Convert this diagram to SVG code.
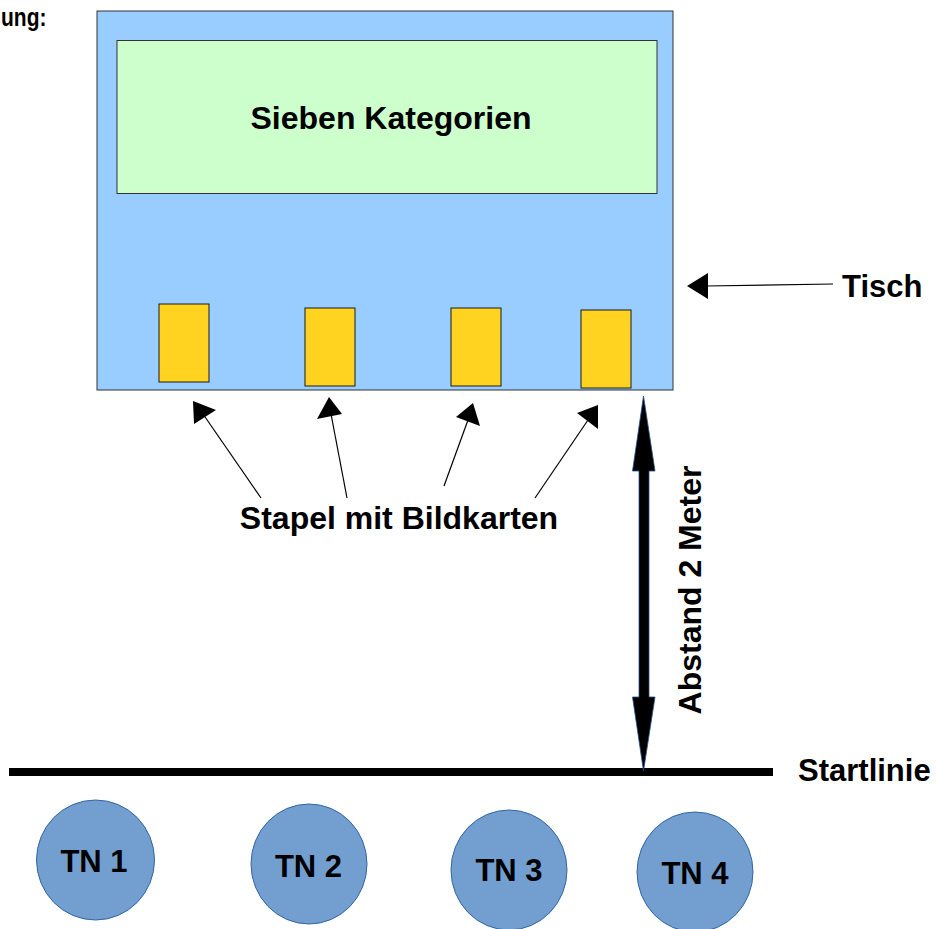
<svg xmlns="http://www.w3.org/2000/svg" width="937" height="929" viewBox="0 0 937 929">
<style>
text{font-family:"Liberation Sans",Arial,sans-serif;font-weight:bold;fill:#000}
.card{fill:#ffd320;stroke:#1a1a1a;stroke-width:1}
.tn{fill:#729fcf;stroke:#3465a4;stroke-width:1}
.thin{stroke:#000;stroke-width:1.2;fill:none}
.head{fill:#000}
</style>
<rect width="937" height="929" fill="#fff"/>
<text transform="translate(1,26) scale(1,1.2)" font-size="21">ung:</text>
<g id="tisch">
<rect x="97" y="11" width="576" height="379" fill="#99ccff" stroke="#333" stroke-width="1"/>
</g>
<g id="kategorien">
<rect x="117" y="40.5" width="540" height="153" fill="#ccffcc" stroke="#333" stroke-width="1"/>
<text x="391" y="129" font-size="32" text-anchor="middle">Sieben Kategorien</text>
</g>
<g id="stapel1"><rect class="card" x="159" y="304" width="50" height="78"/></g>
<g id="stapel2"><rect class="card" x="305" y="308" width="50" height="78"/></g>
<g id="stapel3"><rect class="card" x="451" y="308" width="50" height="78"/></g>
<g id="stapel4"><rect class="card" x="581" y="310" width="50" height="78"/></g>
<g id="label-tisch"><text x="842" y="297" font-size="31">Tisch</text></g>
<g id="label-stapel"><text x="399" y="529" font-size="32" text-anchor="middle">Stapel mit Bildkarten</text></g>
<g id="label-abstand"><text transform="translate(701,590) rotate(-90)" font-size="32" text-anchor="middle">Abstand 2 Meter</text></g>
<g id="startlinie">
<rect x="9" y="768" width="764" height="8" fill="#000"/>
<text x="798" y="781" font-size="31">Startlinie</text>
</g>
<g id="tn1"><ellipse class="tn" cx="95.5" cy="860" rx="59" ry="60"/><text x="94" y="872" font-size="31" text-anchor="middle">TN 1</text></g>
<g id="tn2"><ellipse class="tn" cx="309" cy="864" rx="58" ry="60"/><text x="308.5" y="877" font-size="31" text-anchor="middle">TN 2</text></g>
<g id="tn3"><ellipse class="tn" cx="509" cy="870" rx="58" ry="60"/><text x="509" y="881" font-size="31" text-anchor="middle">TN 3</text></g>
<g id="tn4"><ellipse class="tn" cx="695" cy="872" rx="58" ry="60"/><text x="695" y="884" font-size="31" text-anchor="middle">TN 4</text></g>
<g id="connectors">
<line class="thin" x1="833" y1="284" x2="706" y2="286"/>
<polygon class="head" points="687,286 708,273 708,299"/>
<line class="thin" x1="261" y1="498" x2="203" y2="414"/>
<polygon class="head" points="193,401 194,424 216,410"/>
<line class="thin" x1="347" y1="498" x2="331" y2="414"/>
<polygon class="head" points="329,397 317,419 342,414"/>
<line class="thin" x1="444" y1="486" x2="468" y2="420"/>
<polygon class="head" points="473,403 456,417 480,426"/>
<line class="thin" x1="535" y1="498" x2="588" y2="420"/>
<polygon class="head" points="598,405 577,413 598,429"/>
<path d="M643.5,396 L655,471 L649,471 L649,697 L655,697 L643.5,771 L632.5,697 L639,697 L639,471 L632.5,471 Z" fill="#000" stroke="#2a4f8a" stroke-width="0.8"/>
</g>
</svg>
